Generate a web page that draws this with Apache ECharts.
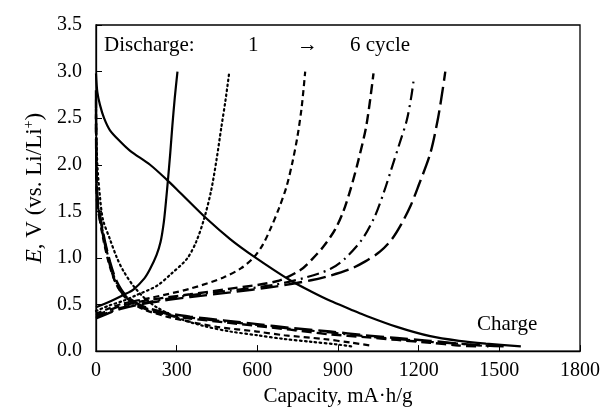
<!DOCTYPE html>
<html><head><meta charset="utf-8">
<script src="https://cdn.jsdelivr.net/npm/echarts@6/dist/echarts.min.js"></script>
<style>html,body{margin:0;padding:0;background:#fff}#c{width:608px;height:412px}</style>
</head><body><div id="c"></div>
<script>
// Rising curves (labelled "Discharge", cycles 1..6): [capacity mA·h/g, E V]
const rise1 = [[0,0.47],[50,0.53],[100,0.6],[139,0.66],[180,0.78],[201,0.88],[225,1.03],[240,1.17],[252,1.38],[260,1.6],[268,1.85],[276,2.12],[284,2.42],[293,2.72],[303,3.0]];
const rise2 = [[0,0.43],[50,0.49],[102,0.54],[150,0.6],[226,0.7],[280,0.83],[338,0.99],[372,1.17],[402,1.42],[428,1.72],[448,2.05],[466,2.4],[482,2.7],[495,2.98]];
const rise3 = [[0,0.4],[50,0.46],[100,0.51],[201,0.57],[350,0.67],[474,0.79],[540,0.89],[585,1.0],[620,1.14],[650,1.32],[680,1.53],[708,1.76],[730,2.02],[749,2.3],[765,2.62],[778,3.0]];
const rise4 = [[0,0.38],[50,0.44],[100,0.49],[201,0.55],[350,0.61],[500,0.67],[672,0.75],[760,0.87],[805,0.99],[848,1.13],[890,1.31],[920,1.5],[946,1.73],[976,2.05],[1006,2.43],[1032,2.98]];
const rise5 = [[0,0.36],[50,0.42],[100,0.47],[201,0.53],[350,0.6],[500,0.65],[660,0.71],[780,0.79],[871,0.88],[925,0.99],[990,1.2],[1036,1.44],[1070,1.7],[1097,1.94],[1128,2.22],[1156,2.48],[1172,2.72],[1181,2.9]];
const rise6 = [[0,0.35],[50,0.41],[100,0.46],[201,0.52],[350,0.58],[500,0.63],[660,0.69],[800,0.76],[871,0.81],[945,0.88],[1000,0.96],[1057,1.07],[1100,1.2],[1135,1.36],[1170,1.56],[1200,1.78],[1243,2.12],[1272,2.5],[1290,2.82],[1299,3.0]];
// Falling curves (cycle 1 labelled "Charge", cycles 2..6)
const fall1 = [[0,2.98],[5,2.78],[15,2.64],[30,2.5],[52,2.37],[90,2.25],[127,2.15],[201,2.0],[263,1.84],[313,1.7],[412,1.42],[500,1.2],[585,1.02],[722,0.76],[800,0.64],[871,0.54],[945,0.45],[995,0.39],[1119,0.26],[1243,0.16],[1350,0.11],[1450,0.08],[1580,0.05]];
const fall2 = [[0,2.5],[5,2.0],[15,1.65],[26,1.41],[52,1.2],[78,1.0],[102,0.86],[139,0.7],[180,0.57],[226,0.47],[300,0.36],[400,0.27],[500,0.21],[600,0.17],[700,0.13],[800,0.1],[900,0.07],[950,0.05]];
const fall3 = [[0,2.4],[3,1.8],[10,1.5],[27,1.2],[52,0.9],[77,0.71],[114,0.56],[176,0.45],[263,0.37],[324,0.33],[450,0.26],[598,0.21],[700,0.17],[846,0.13],[950,0.09],[1020,0.06]];
const fall4 = [[0,2.6],[3,1.65],[27,1.23],[52,0.92],[77,0.71],[114,0.57],[176,0.46],[263,0.39],[350,0.35],[474,0.31],[600,0.27],[722,0.23],[871,0.18],[1000,0.15],[1119,0.12],[1243,0.09],[1350,0.06],[1420,0.05]];
const fall5 = [[0,2.7],[3,1.7],[27,1.25],[52,0.94],[77,0.73],[114,0.58],[176,0.47],[263,0.4],[350,0.36],[474,0.32],[600,0.28],[722,0.24],[871,0.2],[1000,0.16],[1119,0.13],[1243,0.1],[1350,0.08],[1460,0.05]];
const fall6 = [[0,2.8],[3,1.75],[27,1.27],[52,0.96],[77,0.75],[114,0.59],[176,0.48],[263,0.41],[350,0.37],[474,0.33],[600,0.29],[722,0.25],[871,0.21],[1000,0.17],[1119,0.14],[1243,0.11],[1350,0.08],[1450,0.06],[1520,0.05]];

const xTicks = [0,300,600,900,1200,1500,1800];
const yTicks = [0,0.5,1,1.5,2,2.5,3,3.5];

const styles = [
  {type:'solid', width:2.2},
  {type:[1.6,3.4], width:2.2, cap:'round'},
  {type:[6,4], width:2.2},
  {type:[10,5], width:2.4},
  {type:[12,5,2,5], width:2.2},
  {type:[18,6], width:2.4}
];
const rises = [rise1,rise2,rise3,rise4,rise5,rise6];
const falls = [fall1,fall2,fall3,fall4,fall5,fall6];
const series = [];
[rises, falls].forEach(group => group.forEach((d,i) => {
  series.push({type:'line', data:d, showSymbol:false, symbol:'none', smooth:0.3,
    lineStyle:Object.assign({color:'#000'}, styles[i]), silent:true, animation:false});
}));

const font = '"Liberation Serif","Times New Roman",serif';
const chart = echarts.init(document.getElementById('c'), null, {renderer:'canvas'});
chart.setOption({
  animation:false,
  backgroundColor:'#fff',
  grid:{left:96, right:28, top:25, bottom:55, show:true, borderColor:'#000', borderWidth:1.3, backgroundColor:'transparent'},
  xAxis:{type:'value', min:xTicks[0], max:xTicks[xTicks.length-1], interval:300,
    name:'Capacity, mA·h/g', nameLocation:'middle', nameGap:31,
    nameTextStyle:{fontFamily:font, fontSize:21, color:'#000'},
    axisLine:{show:true, lineStyle:{color:'#000', width:1.3}},
    axisTick:{show:true, inside:true, length:6, lineStyle:{color:'#000'}},
    axisLabel:{fontFamily:font, fontSize:20, color:'#000', margin:10, formatter:v=>String(v)},
    splitLine:{show:false}},
  yAxis:{type:'value', min:yTicks[0], max:yTicks[yTicks.length-1], interval:0.5,
    name:'{i|E}, V (vs. Li/Li{s|+})', nameLocation:'middle', nameGap:44, nameRotate:90,
    nameTextStyle:{fontFamily:font, fontSize:23, color:'#000',
      rich:{i:{fontFamily:font, fontSize:23, fontStyle:'italic', color:'#000'},
            s:{fontFamily:font, fontSize:14, color:'#000', verticalAlign:'top', padding:[0,0,10,0]}}},
    axisLine:{show:true, lineStyle:{color:'#000', width:1.3}},
    axisTick:{show:true, inside:true, length:6, lineStyle:{color:'#000'}},
    axisLabel:{fontFamily:font, fontSize:20, color:'#000', margin:14, formatter:v=>v.toFixed(1)},
    splitLine:{show:false}},
  graphic:[
    {type:'text', left:104, top:35, style:{text:'Discharge:', font:'21px '+font, fill:'#000'}},
    {type:'text', left:248, top:35, style:{text:'1', font:'21px '+font, fill:'#000'}},
    {type:'text', left:297, top:35, style:{text:'→', font:'21px '+font, fill:'#000'}},
    {type:'text', left:350, top:35, style:{text:'6 cycle', font:'21px '+font, fill:'#000'}},
    {type:'text', left:477, top:314, style:{text:'Charge', font:'21px '+font, fill:'#000'}}
  ],
  series:series
});
</script></body></html>
